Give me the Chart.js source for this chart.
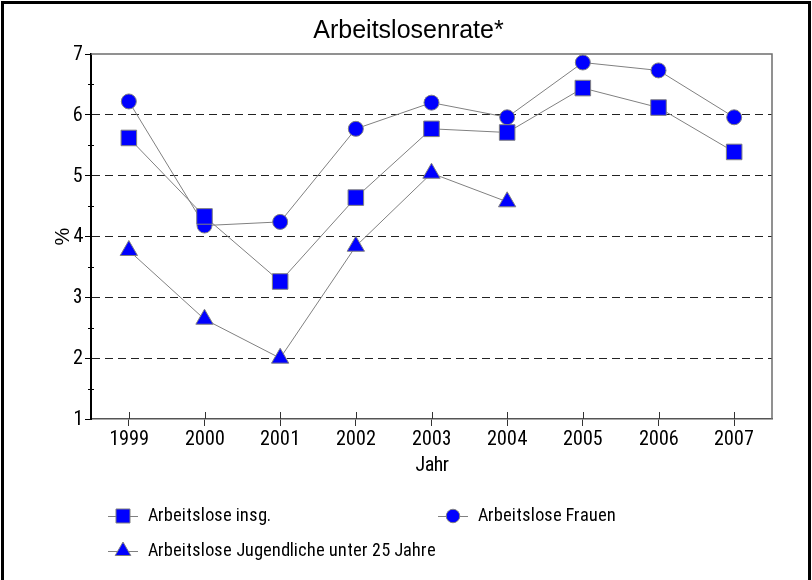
<!DOCTYPE html>
<html>
<head>
<meta charset="utf-8">
<script src="https://cdn.jsdelivr.net/npm/chart.js@4"></script>
<style>
  body { margin: 0; background: #fff; }
  #wrap { width: 812px; height: 580px; position: relative; }
</style>
</head>
<body>
<div id="wrap"><canvas id="chart"></canvas></div>
<script>
const jahre = ["1999", "2000", "2001", "2002", "2003", "2004", "2005", "2006", "2007"];
const insgesamt = [5.62, 4.33, 3.26, 4.64, 5.77, 5.71, 6.44, 6.12, 5.39];
const frauen = [6.22, 4.18, 4.24, 5.77, 6.20, 5.96, 6.86, 6.73, 5.96];
const jugendliche = [3.77, 2.64, 2.00, 3.84, 5.04, 4.57, null, null, null];
const yTicks = [1, 2, 3, 4, 5, 6, 7];
const namen = ["Arbeitslose insg.", "Arbeitslose Frauen", "Arbeitslose Jugendliche unter 25 Jahre"];

const schmal = "Schmal, 'Liberation Sans', sans-serif";
const grau = "#808080";
const blau = "#0000ff";

function serie(label, data, style, r) {
  return {
    label: label,
    data: data,
    borderColor: grau,
    borderWidth: 1,
    backgroundColor: blau,
    pointStyle: style,
    pointRadius: r,
    pointHoverRadius: r,
    pointBackgroundColor: blau,
    pointBorderColor: grau,
    pointBorderWidth: 1,
  };
}

// Rahmen, Zusatzstriche und Legende
const extras = {
  id: "extras",
  afterDraw(chart) {
    const ctx = chart.ctx, a = chart.chartArea;
    const x = chart.scales.x, y = chart.scales.y;
    ctx.save();
    // oberer und rechter Rand
    ctx.strokeStyle = "#6e6e6e";
    ctx.lineWidth = 1.5;
    ctx.beginPath();
    ctx.moveTo(a.left, a.top);
    ctx.lineTo(a.right, a.top);
    ctx.lineTo(a.right, a.bottom);
    ctx.stroke();
    // Zwischenstriche y
    ctx.strokeStyle = "#000";
    ctx.lineWidth = 1;
    for (let i = 0; i < yTicks.length - 1; i++) {
      const py = Math.round(y.getPixelForValue(yTicks[i] + 0.5)) + 0.5;
      ctx.beginPath();
      ctx.moveTo(a.left - 3, py);
      ctx.lineTo(a.left + 3, py);
      ctx.stroke();
    }
    // x-Striche nach innen
    ctx.strokeStyle = "#333";
    jahre.forEach((j, i) => {
      const px = Math.round(x.getPixelForTick(i)) + 0.5;
      ctx.beginPath();
      ctx.moveTo(px, a.bottom - 7);
      ctx.lineTo(px, a.bottom);
      ctx.stroke();
    });
    // Legende
    const pos = [[123, 516], [453, 516], [123, 551]];
    ctx.font = "18px " + schmal;
    ctx.textBaseline = "middle";
    ctx.textAlign = "left";
    chart.data.datasets.forEach((ds, i) => {
      const [lx, ly] = pos[i];
      ctx.strokeStyle = grau;
      ctx.lineWidth = 1;
      ctx.beginPath();
      ctx.moveTo(lx - 15, ly + 0.5);
      ctx.lineTo(lx + 15, ly + 0.5);
      ctx.stroke();
      ctx.fillStyle = blau;
      ctx.strokeStyle = grau;
      Chart.helpers.drawPoint(ctx, {
        pointStyle: ds.pointStyle,
        radius: ds.pointRadius * 0.9,
        rotation: 0,
        borderWidth: 1,
      }, lx, ly);
      ctx.fillStyle = "#000";
      ctx.fillText(ds.label, lx + 25, ly);
    });
    // äußerer Rahmen
    ctx.strokeStyle = "#000";
    ctx.lineWidth = 3;
    ctx.beginPath();
    ctx.moveTo(2.5, 582);
    ctx.lineTo(2.5, 2.5);
    ctx.lineTo(809.5, 2.5);
    ctx.lineTo(809.5, 582);
    ctx.stroke();
    ctx.restore();
  },
};

function zeichnen() {
  new Chart(document.getElementById("chart"), {
    type: "line",
    data: {
      labels: jahre,
      datasets: [
        serie(namen[0], insgesamt, "rect", 11),
        serie(namen[1], frauen, "circle", 7.5),
        serie(namen[2], jugendliche, "triangle", 10),
      ],
    },
    options: {
      responsive: true,
      maintainAspectRatio: false,
      animation: false,
      layout: { padding: { left: 45, right: 40, top: 0, bottom: 96 } },
      plugins: {
        legend: { display: false },
        tooltip: { enabled: false },
        title: {
          display: true,
          text: "Arbeitslosenrate*",
          color: "#000",
          font: { family: "'Liberation Sans', Arial, sans-serif", size: 25, weight: "normal" },
          padding: { top: 16, bottom: 8 },
        },
      },
      scales: {
        x: {
          offset: true,
          afterFit: (s) => { s.height = 65; },
          grid: { display: true, drawOnChartArea: false, tickLength: 7, tickColor: "#333", offset: false },
          border: { color: "#555", width: 1.5 },
          ticks: { color: "#000", padding: 1, font: { family: schmal, size: 20 }, maxRotation: 0 },
          title: { display: true, text: "Jahr", color: "#000", font: { family: schmal, size: 20 }, padding: { top: 0, bottom: 7 } },
        },
        y: {
          min: 1,
          max: 7,
          afterFit: (s) => { s.width = 46; },
          afterBuildTicks: (s) => { s.ticks = yTicks.map((v) => ({ value: v })); },
          grid: {
            color: (c) => (c.tick && c.tick.value > 1 && c.tick.value < 7 ? "#222" : "rgba(0,0,0,0)"),
            lineWidth: 1,
            tickColor: "#000",
            tickLength: 6,
            tickBorderDash: [],
          },
          border: { color: "#000", width: 2, dash: [8, 5] },
          ticks: { color: "#000", padding: 2, font: { family: schmal, size: 20 } },
          title: { display: true, text: "%", color: "#000", font: { family: "'Liberation Sans', Arial, sans-serif", size: 20 }, padding: { top: 6, bottom: 0 } },
        },
      },
    },
    plugins: [extras],
  });
}

// schmale Schrift (lokal installiert) laden, dann zeichnen
new FontFace("Schmal", "local('Roboto Condensed'), local('RobotoCondensed-Regular'), local('DejaVu Sans Condensed')")
  .load()
  .then((f) => { document.fonts.add(f); })
  .catch(() => {})
  .finally(zeichnen);
</script>
</body>
</html>
